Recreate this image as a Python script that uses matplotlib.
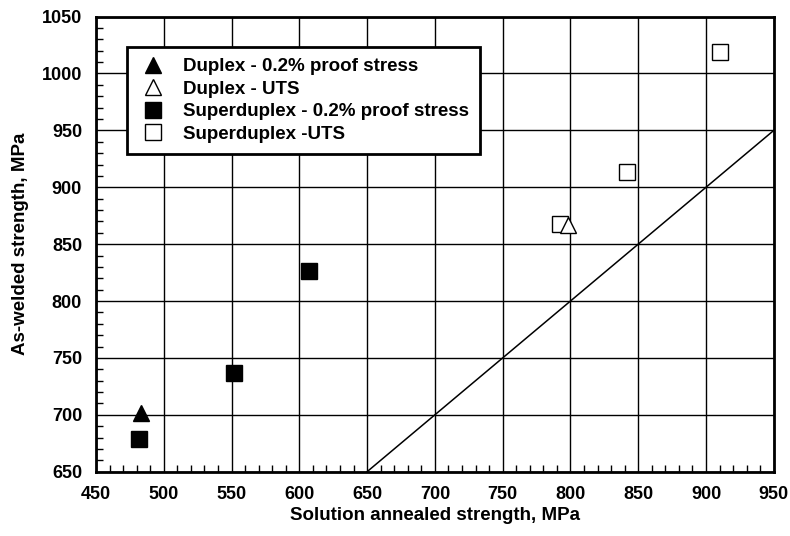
import numpy as np
import matplotlib
matplotlib.use("Agg")
import matplotlib.pyplot as plt
from matplotlib.ticker import MultipleLocator

# Data
duplex_ps_x = [483]
duplex_ps_y = [702]
duplex_uts_x = [798]
duplex_uts_y = [867]
superduplex_ps_x = [482, 552, 607]
superduplex_ps_y = [679, 737, 826]
superduplex_uts_x = [792, 842, 910]
superduplex_uts_y = [868, 913, 1019]
line_x = [650, 950]
line_y = [650, 950]

plt.rcParams['font.family'] = ['Liberation Sans', 'DejaVu Sans']
plt.rcParams['font.weight'] = 'bold'

fig = plt.figure(figsize=(7.9, 5.36), dpi=100)
ax = fig.add_axes([0.1215, 0.12, 0.858, 0.849])

ax.plot(line_x, line_y, color='black', lw=1.1, zorder=2)
ax.plot(duplex_ps_x, duplex_ps_y, ls='none', marker='^', ms=11.5, mfc='black', mec='black',
        label='Duplex - 0.2% proof stress', zorder=3)
ax.plot(duplex_uts_x, duplex_uts_y, ls='none', marker='^', ms=11.5, mfc='white', mec='black', mew=1.0,
        label='Duplex - UTS', zorder=4)
ax.plot(superduplex_ps_x, superduplex_ps_y, ls='none', marker='s', ms=12, mfc='black', mec='black',
        label='Superduplex - 0.2% proof stress', zorder=3)
ax.plot(superduplex_uts_x, superduplex_uts_y, ls='none', marker='s', ms=11, mfc='white', mec='black', mew=1.0,
        label='Superduplex -UTS', zorder=3)

ax.set_xlim(450, 950)
ax.set_ylim(650, 1050)
ax.xaxis.set_major_locator(MultipleLocator(50))
ax.yaxis.set_major_locator(MultipleLocator(50))
ax.xaxis.set_minor_locator(MultipleLocator(10))
ax.yaxis.set_minor_locator(MultipleLocator(10))
ax.grid(True, which='major', color='black', lw=1.0, zorder=1)
ax.set_axisbelow(True)
ax.tick_params(which='both', direction='in', top=False, right=False)
ax.tick_params(which='major', length=0, labelsize=13)
ax.tick_params(axis='x', which='major', pad=10)
ax.tick_params(axis='y', which='major', pad=10)
ax.tick_params(which='minor', length=5, width=1)
for lab in ax.get_xticklabels() + ax.get_yticklabels():
    lab.set_fontweight('bold')
for sp in ax.spines.values():
    sp.set_linewidth(2)

ax.set_xlabel('Solution annealed strength, MPa', fontsize=13.5, fontweight='bold', labelpad=3)
ax.set_ylabel('As-welded strength, MPa', fontsize=13.5, fontweight='bold', labelpad=9)

leg = ax.legend(loc='upper left', bbox_to_anchor=(0.0457, 0.933), borderaxespad=0,
                fancybox=False, framealpha=1, edgecolor='black', prop={'size': 13.5, 'weight': 'bold'},
                handletextpad=0.8, labelspacing=0.28, borderpad=0.6, handlelength=1.6)
leg.get_frame().set_linewidth(2)

fig.savefig('out.png', dpi=100)
